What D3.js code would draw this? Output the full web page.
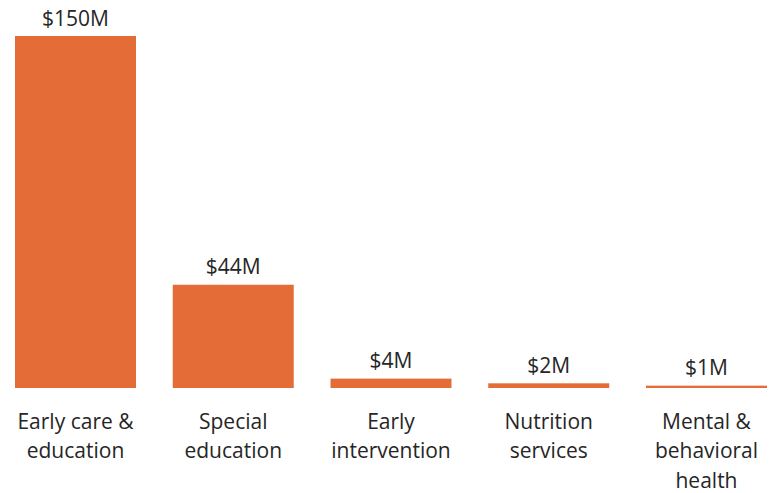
<!DOCTYPE html>
<html>
<head>
<meta charset="utf-8">
<script src="https://cdn.jsdelivr.net/npm/d3@7"></script>
<style>
  html, body { margin: 0; padding: 0; background: #fff; }
  svg { display: block; }
</style>
</head>
<body>
<svg id="chart" width="770" height="493"></svg>
<script>
const categories = [
  ["Early care &", "education"],
  ["Special", "education"],
  ["Early", "intervention"],
  ["Nutrition", "services"],
  ["Mental &", "behavioral", "health"]
];
const values = [150, 44, 4, 2, 1];
const valueLabels = ["$150M", "$44M", "$4M", "$2M", "$1M"];

const svg = d3.select("#chart");
const font = "'Open Sans', 'Noto Sans', sans-serif";
const color = "#E46C37";

const x = d3.scaleBand()
  .domain(d3.range(values.length))
  .range([15, 767])
  .paddingInner(0.233)
  .paddingOuter(0);

const y = d3.scaleLinear().domain([0, 150]).range([388, 36]);

svg.selectAll("rect.bar")
  .data(values)
  .join("rect")
  .attr("class", "bar")
  .attr("x", (d, i) => x(i))
  .attr("width", x.bandwidth())
  .attr("y", d => y(d))
  .attr("height", d => y(0) - y(d))
  .attr("fill", color);

svg.selectAll("text.val")
  .data(values)
  .join("text")
  .attr("class", "val")
  .attr("x", (d, i) => x(i) + x.bandwidth() / 2)
  .attr("y", d => y(d) - 10.5)
  .attr("text-anchor", "middle")
  .attr("font-family", font)
  .attr("font-size", 21)
  .attr("fill", "#262626")
  .text((d, i) => valueLabels[i]);

const cat = svg.selectAll("text.cat")
  .data(categories)
  .join("text")
  .attr("class", "cat")
  .attr("text-anchor", "middle")
  .attr("font-family", font)
  .attr("font-size", 21)
  .attr("fill", "#262626");

cat.selectAll("tspan")
  .data((d, i) => d.map(line => ({ line, i })))
  .join("tspan")
  .attr("x", d => x(d.i) + x.bandwidth() / 2)
  .attr("y", (d, j) => 428.5 + j * 29.5)
  .text(d => d.line);
</script>
</body>
</html>
